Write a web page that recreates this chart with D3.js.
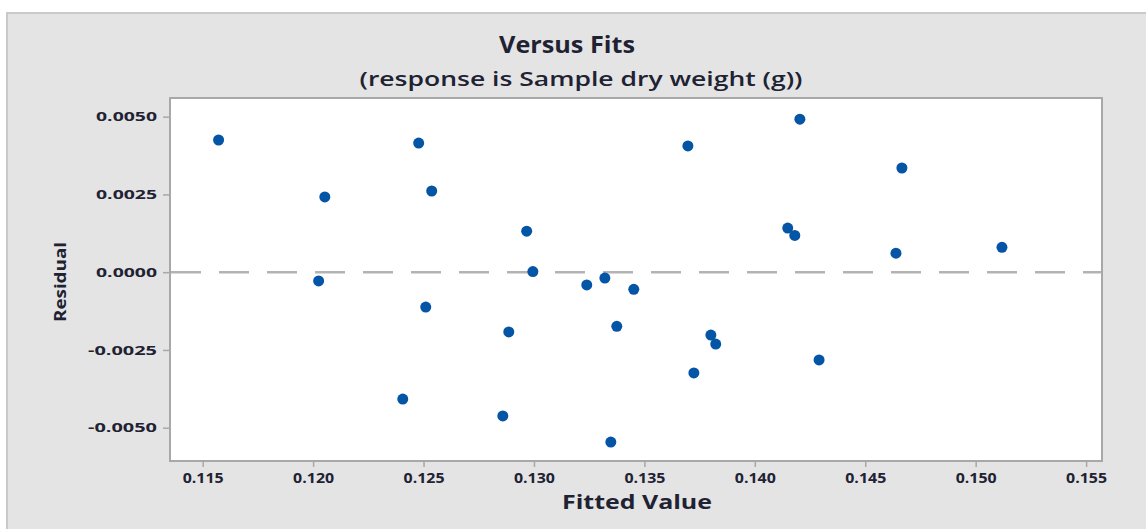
<!DOCTYPE html>
<html>
<head>
<meta charset="utf-8">
<script src="https://cdn.jsdelivr.net/npm/d3@7"></script>
<style>
  body { margin:0; background:#fff; }
  text { font-family:"Open Sans", "DejaVu Sans", sans-serif; fill:#1e2233; }
</style>
</head>
<body>
<div id="chart"></div>
<script>
// fitted values and residuals
var fitted = [0.11572, 0.12053, 0.12025, 0.12478, 0.12537, 0.1251, 0.12406, 0.12967, 0.12995,
	0.12886, 0.12859, 0.13239, 0.13321, 0.13452, 0.13375, 0.13348, 0.13697, 0.13724, 0.13801,
	0.13823, 0.14204, 0.14149, 0.14181, 0.14291, 0.14666, 0.14639, 0.15119];
var resid = [0.00425, 0.00242, -0.00028, 0.00415, 0.00261, -0.00112, -0.00408, 0.00132, 0.00002,
	-0.00192, -0.00462, -0.00041, -0.00019, -0.00055, -0.00174, -0.00546, 0.00406, -0.00324, -0.00202,
	-0.00231, 0.00492, 0.00142, 0.00118, -0.00282, 0.00335, 0.00061, 0.0008];
var xTicks = [0.115, 0.120, 0.125, 0.130, 0.135, 0.140, 0.145, 0.150, 0.155];
var yTicks = [-0.0050, -0.0025, 0.0000, 0.0025, 0.0050];

var W = 1146, H = 529;
var plot = { left:170, top:98, right:1102, bottom:461 };

var x = d3.scaleLinear().domain([0.11352, 0.15572]).range([plot.left, plot.right]);
var y = d3.scaleLinear().domain([-0.00607, 0.0056]).range([plot.bottom, plot.top]);

var svg = d3.select("#chart").append("svg")
	.attr("width", W).attr("height", H);

// outer panel
svg.append("rect").attr("x", 7).attr("y", 13).attr("width", W).attr("height", H)
	.attr("fill", "#e4e4e4").attr("stroke", "#c9c9c9").attr("stroke-width", 2);

svg.append("rect").attr("x", plot.left).attr("y", plot.top)
	.attr("width", plot.right - plot.left).attr("height", plot.bottom - plot.top)
	.attr("fill", "#fff");

// reference line at zero
svg.append("line")
	.attr("x1", plot.left).attr("x2", plot.right)
	.attr("y1", y(0)).attr("y2", y(0))
	.attr("stroke", "#b3b3b3").attr("stroke-width", 2.5)
	.attr("stroke-dasharray", "30,18").attr("stroke-dashoffset", -1);

svg.append("g").selectAll("circle").data(fitted).enter().append("circle")
	.attr("cx", function(d) { return x(d); })
	.attr("cy", function(d, i) { return y(resid[i]); })
	.attr("r", 5.5)
	.attr("fill", "#0455a6");

svg.append("rect").attr("x", plot.left).attr("y", plot.top)
	.attr("width", plot.right - plot.left).attr("height", plot.bottom - plot.top)
	.attr("fill", "none").attr("stroke", "#a8a8a8").attr("stroke-width", 2);

var xax = svg.append("g").attr("class", "xax")
	.attr("transform", "translate(0," + (plot.bottom + 1) + ")")
	.call(d3.axisBottom(x).tickValues(xTicks).tickFormat(d3.format(".3f")).tickSize(5).tickPadding(6));

var yax = svg.append("g").attr("class", "yax")
	.attr("transform", "translate(" + (plot.left - 1) + ",0)")
	.call(d3.axisLeft(y).tickValues(yTicks).tickFormat(d3.format(".4f")).tickSize(6).tickPadding(6));

svg.selectAll(".domain").remove();
svg.selectAll(".tick line").attr("stroke", "#a8a8a8").attr("stroke-width", 1.5);
svg.selectAll(".tick text").attr("font-family", null).attr("fill", null)
	.style("font-weight", 700).attr("lengthAdjust", "spacingAndGlyphs");
xax.selectAll(".tick text").style("font-size", "14px").attr("textLength", 41);
yax.selectAll(".tick text").style("font-size", "13px")
	.text(function(d) { return d3.format(".4f")(d).replace("\u2212", "-"); })
	.attr("textLength", function(d) { return d < 0 ? 69 : 61; });

// titles
function label(t, px, py, size, weight, len) {
	return svg.append("text").attr("x", px).attr("y", py).attr("text-anchor", "middle")
		.style("font-size", size + "px").style("font-weight", weight)
		.attr("textLength", len).attr("lengthAdjust", "spacingAndGlyphs")
		.text(t);
}
label("Versus Fits", 567, 53, 23, 700, 136);
label("(response is Sample dry weight (g))", 581, 86, 20, 600, 443);
label("Fitted Value", 637, 509, 19, 700, 150);
label("Residual", 0, 0, 16, 700, 80).attr("transform", "translate(66,282) rotate(-90)");
</script>
</body>
</html>
